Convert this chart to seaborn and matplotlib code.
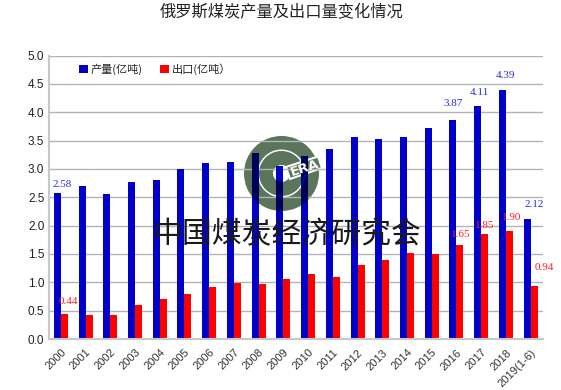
import matplotlib
matplotlib.use('Agg')
import matplotlib.pyplot as plt
import pandas as pd
import seaborn as sns
from matplotlib.patches import Polygon, Wedge
from matplotlib.path import Path

years = ['2000', '2001', '2002', '2003', '2004', '2005', '2006', '2007', '2008', '2009',
         '2010', '2011', '2012', '2013', '2014', '2015', '2016', '2017', '2018', '2019(1-6)']
output = [2.58, 2.70, 2.55, 2.77, 2.81, 2.99, 3.10, 3.13, 3.28, 3.05,
          3.22, 3.35, 3.56, 3.52, 3.57, 3.73, 3.87, 4.11, 4.39, 2.12]
export = [0.44, 0.42, 0.43, 0.60, 0.71, 0.80, 0.91, 0.98, 0.97, 1.05,
          1.15, 1.10, 1.31, 1.39, 1.51, 1.50, 1.65, 1.85, 1.90, 0.94]
series_names = ['产量(亿吨)', '出口(亿吨）']
yticks = [0.0, 0.5, 1.0, 1.5, 2.0, 2.5, 3.0, 3.5, 4.0, 4.5, 5.0]

# (year index, dx px, dy px) for the few bars that carry a label
output_labels = [(0, 5, 8), (16, 0, 16), (17, 2, 13), (18, 3, 15), (19, 7, 14)]
export_labels = [(0, 4, 13), (16, 1, 11), (17, 0, 9), (18, 2, 14), (19, 10, 18)]

GREEN = '#5a755a'
W, H = 561, 390

sns.set_theme(style='white')
plt.rcParams['font.family'] = ['Noto Sans CJK SC', 'DejaVu Sans']

df = pd.DataFrame({
    'year': years * 2,
    'value': output + export,
    'series': [series_names[0]] * len(years) + [series_names[1]] * len(years),
})

fig = plt.figure(figsize=(W / 100, H / 100), dpi=100)

# logo sits under the chart, in pixel coordinates
bg = fig.add_axes([0, 0, 1, 1], zorder=0)
bg.set_xlim(0, W)
bg.set_ylim(H, 0)
bg.axis('off')
cx, cy = 281.5, 173.5
plate_xy = [(286, 167), (318, 156.5), (322, 168), (290, 179)]
outer = Wedge((cx, cy), 37.5, 0, 360, width=13.5, transform=bg.transData)
inner = Wedge((cx, cy), 22.5, 0, 360, width=14, transform=bg.transData)
bg.add_patch(Wedge((cx, cy), 37.5, 0, 360, width=13.5, color=GREEN, lw=0))
bg.add_patch(Wedge((cx, cy), 22.5, 0, 360, width=14, color=GREEN, lw=0))
# white stem from the hub to the plate, then the plate itself
bg.add_patch(Polygon([(cx - 2, cy - 8), (cx + 8, cy - 7), (cx + 10, cy + 2), (cx + 1, cy + 8)], color='white', lw=0))
bg.add_patch(Polygon(plate_xy, fc=GREEN, ec='white', lw=1.5))

ax = fig.add_axes([48.5 / W, (H - 339) / H, 494.5 / W, 283.5 / H], zorder=1)
ax.patch.set_alpha(0)
ax.set_axisbelow(True)
ax.grid(axis='y', color='#b4b4b4', lw=1)

sns.barplot(data=df, x='year', y='value', hue='series', palette=['#0000c8', '#ff0000'],
            width=0.567, gap=0, saturation=1, linewidth=0, ax=ax)

# bars look multiplied where they cross the logo
plate = Polygon(plate_xy, closed=True)
clip_verts = Path.make_compound_path(outer.get_path().transformed(outer.get_patch_transform()),
                                     inner.get_path().transformed(inner.get_patch_transform()),
                                     plate.get_path())
n_containers = len(ax.containers)
sns.barplot(data=df, x='year', y='value', hue='series', palette=['#00005a', '#5a0000'],
            width=0.567, gap=0, saturation=1, linewidth=0, legend=False, ax=ax)
for container in ax.containers[n_containers:]:
    for bar in container:
        bar.set_clip_path(clip_verts, bg.transData)

ax.set_xlim(-0.5, len(years) - 0.5)
ax.set_ylim(0, 5)
ax.set_yticks(yticks)
ax.set_yticklabels([f'{v:.1f}' for v in yticks], fontsize=8.5, color='#222222', family='Liberation Sans')
ax.set_xticks(range(len(years)))
ax.set_xticklabels(years, rotation=45, ha='right', rotation_mode='anchor', fontsize=8,
                   color='#333333', family='Liberation Sans')
ax.tick_params(axis='y', length=0, pad=3)
ax.tick_params(axis='x', length=0, pad=6)
ax.set_xlabel('')
ax.set_ylabel('')
for side in ['top', 'right']:
    ax.spines[side].set_visible(False)
for side in ['left', 'bottom']:
    ax.spines[side].set_color('#c8c8c8')
    ax.spines[side].set_linewidth(1.5)

offset = 0.567 / 4
for i, dx, dy in output_labels:
    ax.annotate(f'{output[i]:.2f}', (i - offset, output[i]), xytext=(dx * 0.72, dy * 0.72),
                textcoords='offset points', ha='center', va='center', fontsize=8,
                color='#2a2ae0', family='Liberation Serif')
for i, dx, dy in export_labels:
    ax.annotate(f'{export[i]:.2f}', (i + offset, export[i]), xytext=(dx * 0.72, dy * 0.72),
                textcoords='offset points', ha='center', va='center', fontsize=8,
                color='#ff2020', family='Liberation Serif')

ax.legend(loc='upper left', bbox_to_anchor=(0.057, 0.98), ncol=2, frameon=False, fontsize=8,
          handlelength=0.8, handleheight=0.8, handletextpad=0.25, columnspacing=1.6, borderpad=0.2,
          borderaxespad=0)

fig.text(281.5 / W, 1 - 13 / H, '俄罗斯煤炭产量及出口量变化情况', ha='center', va='center',
         fontsize=11.7, color='#222222')
fig.text(305 / W, 1 - 168 / H, 'ERA', color='white', fontsize=9.5, fontweight='bold', family='DejaVu Sans',
         rotation=18, ha='center', va='center', zorder=5)
fig.text(287 / W, 1 - 235 / H, '中国煤炭经济研究会', ha='center', va='center', fontsize=21.5,
         color='#1a1a1a', zorder=5)

fig.savefig('out.png', dpi=100)
